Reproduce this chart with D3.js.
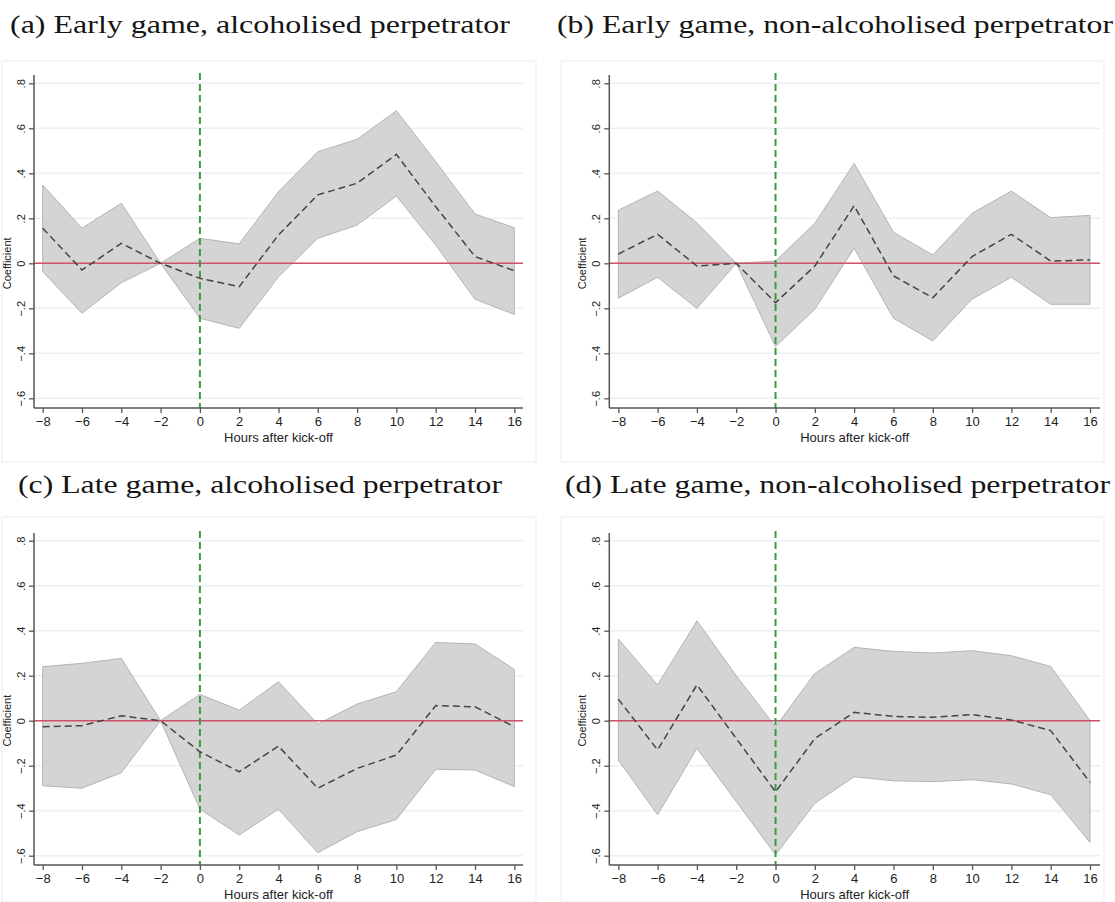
<!DOCTYPE html>
<html>
<head>
<meta charset="utf-8">
<script src="https://cdn.jsdelivr.net/npm/d3@7"></script>
<style>
  html, body { margin: 0; padding: 0; background: #fff; }
  svg { display: block; }
  .title { font-family: "Liberation Serif", "DejaVu Serif", serif; fill: #151515; }
  .tick-x, .xlab, .ylab, .tick-y { font-family: "Liberation Sans", Arial, sans-serif; fill: #222; }
</style>
</head>
<body>
<svg id="chart" width="1115" height="902"></svg>
<script>
// Event-study coefficients by hour relative to kick-off, with 95% bands
const hours = [-8, -6, -4, -2, 0, 2, 4, 6, 8, 10, 12, 14, 16];
const yTicks = [-0.6, -0.4, -0.2, 0, 0.2, 0.4, 0.6, 0.8];
const xTicks = hours;

const titles = [
  "(a) Early game, alcoholised perpetrator",
  "(b) Early game, non-alcoholised perpetrator",
  "(c) Late game, alcoholised perpetrator",
  "(d) Late game, non-alcoholised perpetrator"
];

// (a) Early game, alcoholised
const coefA  = [0.156, -0.030, 0.089, 0, -0.067, -0.104, 0.126, 0.304, 0.356, 0.484, 0.252, 0.030, -0.033];
const upperA = [0.348, 0.156, 0.267, 0, 0.111, 0.086, 0.318, 0.496, 0.551, 0.678, 0.452, 0.219, 0.158];
const lowerA = [-0.037, -0.222, -0.086, 0, -0.244, -0.289, -0.060, 0.111, 0.170, 0.299, 0.081, -0.160, -0.227];

// (b) Early game, non-alcoholised
const coefB  = [0.041, 0.129, -0.012, 0, -0.175, -0.012, 0.256, -0.056, -0.153, 0.030, 0.129, 0.010, 0.015];
const upperB = [0.236, 0.321, 0.180, 0, 0.010, 0.178, 0.444, 0.138, 0.037, 0.222, 0.321, 0.203, 0.213];
const lowerB = [-0.155, -0.062, -0.200, 0, -0.370, -0.204, 0.067, -0.244, -0.345, -0.159, -0.062, -0.182, -0.182];

// (c) Late game, alcoholised
const coefC  = [-0.027, -0.022, 0.022, 0, -0.138, -0.227, -0.113, -0.300, -0.212, -0.153, 0.067, 0.062, -0.027];
const upperC = [0.240, 0.255, 0.277, 0, 0.117, 0.047, 0.173, -0.015, 0.074, 0.129, 0.348, 0.341, 0.228];
const lowerC = [-0.289, -0.300, -0.231, 0, -0.393, -0.508, -0.393, -0.587, -0.493, -0.439, -0.216, -0.219, -0.293];

// (d) Late game, non-alcoholised
const coefD  = [0.096, -0.130, 0.159, -0.079, -0.316, -0.079, 0.037, 0.019, 0.015, 0.027, 0.003, -0.044, -0.274];
const upperD = [0.363, 0.159, 0.444, 0.200, -0.027, 0.210, 0.326, 0.308, 0.301, 0.311, 0.289, 0.241, 0.000];
const lowerD = [-0.175, -0.418, -0.123, -0.359, -0.596, -0.367, -0.249, -0.267, -0.271, -0.262, -0.281, -0.329, -0.541];

const panels = [
  { title: titles[0], coef: coefA, upper: upperA, lower: lowerA, col: 0, row: 0, tw: 500, tx: 10 },
  { title: titles[1], coef: coefB, upper: upperB, lower: lowerB, col: 1, row: 0, tw: 556, tx: 557 },
  { title: titles[2], coef: coefC, upper: upperC, lower: lowerC, col: 0, row: 1, tw: 484, tx: 18 },
  { title: titles[3], coef: coefD, upper: upperD, lower: lowerD, col: 1, row: 1, tw: 545, tx: 565 }
];

const svg = d3.select("#chart");

const colGeom = [
  { box: [2, 536], axisX: 34, x0: 42.7, x1: 514.3, right: 523 },
  { box: [561, 1104], axisX: 609.3, x0: 618.3, x1: 1090, right: 1100 }
];
const rowGeom = [
  { box: [61, 462], titleY: 33, top: 75, yTop: 83.3, yBot: 398.3, axisY: 408 },
  { box: [517, 902], titleY: 493, top: 533, yTop: 540.7, yBot: 855.7, axisY: 865 }
];

panels.forEach(p => {
  const cg = colGeom[p.col], rg = rowGeom[p.row];
  const g = svg.append("g");

  // title
  g.append("text").attr("class", "title")
    .attr("x", p.tx).attr("y", rg.titleY)
    .attr("font-size", 25.5)
    .attr("textLength", p.tw).attr("lengthAdjust", "spacingAndGlyphs")
    .text(p.title);

  // faint panel frame
  g.append("rect")
    .attr("x", cg.box[0]).attr("y", rg.box[0])
    .attr("width", cg.box[1] - cg.box[0]).attr("height", rg.box[1] - rg.box[0])
    .attr("fill", "none").attr("stroke", "#f1f3f4").attr("stroke-width", 1.5);

  const x = d3.scaleLinear().domain([-8, 16]).range([cg.x0, cg.x1]);
  const y = d3.scaleLinear().domain([-0.6, 0.8]).range([rg.yBot, rg.yTop]);

  // horizontal gridlines
  g.append("g").selectAll("line").data(yTicks).join("line")
    .attr("x1", cg.axisX).attr("x2", cg.right)
    .attr("y1", d => y(d)).attr("y2", d => y(d))
    .attr("stroke", "#e8f1f4").attr("stroke-width", 1.5);

  const rows = hours.map((h, i) => ({ h, c: p.coef[i], lo: p.lower[i], hi: p.upper[i] }));

  // confidence band
  g.append("path").datum(rows)
    .attr("d", d3.area().x(d => x(d.h)).y0(d => y(d.lo)).y1(d => y(d.hi)))
    .attr("fill", "#d4d4d4").attr("stroke", "#b4b4b4").attr("stroke-width", 1);

  // zero reference line
  g.append("line")
    .attr("x1", cg.axisX).attr("x2", cg.right)
    .attr("y1", y(0)).attr("y2", y(0))
    .attr("stroke", "#d0506a").attr("stroke-width", 1.6);

  // kick-off marker
  g.append("line")
    .attr("x1", x(0)).attr("x2", x(0))
    .attr("y1", rg.top - 2).attr("y2", rg.axisY)
    .attr("stroke", "#3a9a45").attr("stroke-width", 2)
    .attr("stroke-dasharray", "7,4");

  // point estimates
  g.append("path").datum(rows)
    .attr("d", d3.line().x(d => x(d.h)).y(d => y(d.c)))
    .attr("fill", "none").attr("stroke", "#444").attr("stroke-width", 1.5)
    .attr("stroke-dasharray", "7,4");

  // x axis
  const xAxis = d3.axisBottom(x).tickValues(xTicks).tickSize(5).tickPadding(4).tickFormat(d3.format("d"));
  const xg = g.append("g").attr("transform", `translate(0,${rg.axisY})`).call(xAxis);
  xg.select(".domain").remove();
  xg.append("line").attr("x1", cg.axisX).attr("x2", cg.right).attr("y1", 0).attr("y2", 0)
    .attr("stroke", "#555").attr("stroke-width", 1.5);
  xg.selectAll(".tick line").attr("stroke", "#555").attr("stroke-width", 1.3);
  xg.selectAll(".tick text").attr("class", "tick-x").attr("font-size", 13)
    .attr("font-family", "Liberation Sans, Arial, sans-serif").attr("fill", "#222");

  g.append("text").attr("class", "xlab")
    .attr("x", (cg.axisX + cg.right) / 2).attr("y", rg.axisY + 34)
    .attr("text-anchor", "middle").attr("font-size", 13)
    .text("Hours after kick-off");

  // y axis
  const fmt = d => d === 0 ? "0" : d3.format(".1f")(d).replace("0.", ".");
  const yAxis = d3.axisLeft(y).tickValues(yTicks).tickSize(5).tickFormat(fmt);
  const yg = g.append("g").attr("transform", `translate(${cg.axisX},0)`).call(yAxis);
  yg.select(".domain").remove();
  yg.append("line").attr("x1", 0).attr("x2", 0).attr("y1", rg.top).attr("y2", rg.axisY)
    .attr("stroke", "#555").attr("stroke-width", 1.5);
  yg.selectAll(".tick line").attr("stroke", "#555").attr("stroke-width", 1.3);
  yg.selectAll(".tick text")
    .attr("font-size", 11).attr("font-family", "Liberation Sans, Arial, sans-serif").attr("fill", "#222")
    .attr("x", null).attr("dy", null)
    .attr("text-anchor", "middle")
    .attr("transform", "translate(-9,0) rotate(-90)")
    .attr("y", 0);

  g.append("text").attr("class", "ylab")
    .attr("transform", `translate(${cg.axisX - 23.5},${y(0)}) rotate(-90)`)
    .attr("text-anchor", "middle").attr("font-size", 11)
    .text("Coefficient");
});
</script>
</body>
</html>
